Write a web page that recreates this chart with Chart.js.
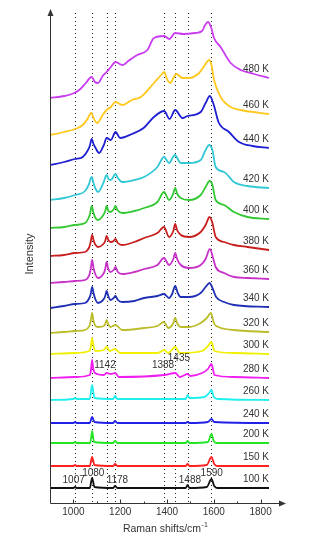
<!DOCTYPE html>
<html>
<head>
<meta charset="utf-8">
<script src="https://cdn.jsdelivr.net/npm/chart.js@4/dist/chart.umd.min.js"></script>
<style>
  html, body { margin: 0; padding: 0; background: #fff; }
  #wrap { width: 314px; height: 543px; }
</style>
</head>
<body>
<div id="wrap"><canvas id="ramanChart" width="314" height="543"></canvas></div>
<script>
// temperatures, top to bottom
const temps = ['480 K','460 K','440 K','420 K','400 K','380 K','360 K','340 K','320 K','300 K','280 K','260 K','240 K','200 K','150 K','100 K'];
const colors = ['#c93cf0','#ffc81e','#1e1ed2','#32c8d6','#32c832','#c81e1e','#c832c8','#2030b4','#bcbc2a','#f0f000','#f01ef0','#1ef0f0','#2020e6','#22e622','#ff2020','#111111'];

// [Raman shift, intensity (a.u., stacked)]
const s480 = [[900,405],[960,407],[1004,410],[1030,414],[1053,420],[1078,426],[1092,421],[1105,420],[1125,427],[1142,431],[1160,436],[1180,441],[1209,438],[1240,443],[1273,448],[1316,453],[1344,465],[1388,467],[1410,464],[1435,470],[1470,469],[1520,470],[1550,472],[1563,478],[1575,481],[1588,476],[1601,465],[1629,456],[1672,440],[1715,433],[1772,429],[1836,425]];
const s460 = [[900,368],[960,371],[1007,374],[1040,378],[1060,384],[1076,390],[1090,383],[1102,380],[1125,388],[1142,393],[1160,396],[1180,401],[1209,398],[1250,403],[1288,406],[1344,420],[1375,428],[1388,431],[1400,424],[1413,420],[1440,429],[1466,425],[1494,425],[1537,430],[1562,438],[1580,443],[1590,438],[1601,423],[1629,406],[1672,396],[1715,393],[1836,389]];
const s440 = [[900,338],[960,341],[1007,344],[1040,346],[1060,352],[1070,357],[1078,364],[1086,359],[1095,355],[1110,350],[1130,358],[1142,365],[1160,363],[1180,371],[1200,365],[1250,369],[1300,375],[1344,386],[1388,392],[1411,384],[1435,393],[1466,385],[1488,387],[1544,391],[1565,400],[1583,407],[1600,398],[1620,381],[1665,371],[1708,361],[1765,357],[1835,355]];
const s420 = [[900,303],[960,305],[1007,308],[1050,312],[1065,318],[1078,326],[1086,320],[1095,314],[1105,311],[1128,320],[1142,328],[1150,324],[1160,323],[1180,329],[1190,325],[1209,321],[1260,323],[1302,326],[1359,336],[1387,346],[1409,340],[1433,348],[1459,340],[1494,340],[1544,343],[1565,353],[1580,358],[1594,353],[1608,336],[1644,331],[1686,321],[1744,317],[1836,315]];
const s400 = [[900,275],[960,276],[1007,278],[1050,280],[1065,285],[1072,290],[1078,297],[1085,291],[1092,286],[1105,283],[1128,288],[1136,292],[1142,297],[1149,292],[1158,291],[1173,294],[1180,297],[1188,293],[1209,290],[1260,292],[1302,295],[1359,301],[1387,311],[1409,303],[1426,309],[1435,315],[1444,309],[1459,305],[1494,303],[1544,308],[1565,316],[1582,322],[1594,318],[1608,303],[1644,298],[1686,291],[1744,286],[1836,284]];
const s380 = [[900,247],[960,248],[1007,250],[1050,251],[1066,255],[1073,260],[1080,268],[1087,262],[1095,258],[1105,256],[1128,259],[1136,262],[1142,267],[1149,263],[1160,261],[1172,262],[1180,264],[1190,260],[1209,258],[1260,261],[1302,265],[1359,270],[1387,276],[1409,266],[1427,272],[1435,279],[1443,273],[1459,268],[1494,266],[1544,271],[1565,278],[1582,286],[1594,280],[1608,266],[1644,261],[1686,258],[1744,256],[1836,253]];
const s360 = [[900,220],[960,221],[1007,222],[1050,223],[1068,228],[1074,234],[1080,243],[1086,235],[1095,228],[1105,225],[1130,230],[1136,234],[1142,241],[1148,235],[1158,231],[1172,233],[1180,236],[1190,231],[1209,229],[1260,231],[1302,234],[1359,238],[1387,245],[1409,238],[1427,244],[1435,250],[1443,244],[1459,238],[1494,235],[1544,238],[1565,244],[1583,254],[1598,244],[1608,236],[1644,230],[1686,226],[1744,225],[1836,224]];
const s340 = [[900,195],[960,197],[1007,199],[1050,200],[1068,205],[1074,209],[1080,216],[1087,209],[1095,203],[1105,200],[1130,204],[1136,207],[1142,212],[1149,207],[1158,203],[1172,205],[1180,207],[1190,203],[1209,201],[1260,202],[1302,205],[1359,207],[1387,209],[1409,205],[1422,209],[1435,217],[1446,210],[1459,206],[1494,206],[1544,210],[1565,216],[1582,220],[1596,214],[1610,206],[1644,201],[1686,198],[1836,196]];
const s320 = [[900,170],[960,171],[1007,172],[1050,173],[1068,177],[1074,182],[1080,190],[1086,182],[1095,177],[1105,176],[1130,177],[1136,179],[1142,183],[1149,179],[1158,176],[1180,178],[1209,173],[1302,175],[1359,177],[1387,181],[1405,175],[1425,179],[1435,185],[1445,179],[1459,176],[1494,176],[1544,180],[1570,185],[1588,190],[1600,180],[1620,176],[1686,173],[1836,171]];
const s300 = [[900,149],[1007,150],[1068,152],[1074,156],[1080,165],[1086,157],[1095,152],[1130,153],[1142,156],[1155,152],[1178,154],[1200,150],[1360,150],[1388,153],[1405,150],[1435,156],[1455,150],[1550,152],[1575,157],[1590,161],[1603,152],[1686,150],[1836,149]];
const s280 = [[900,125],[1007,126],[1070,128],[1075,133],[1080,143],[1085,134],[1092,130],[1130,128],[1142,130],[1160,129],[1178,130],[1195,126],[1388,128],[1435,130],[1455,126],[1488,129],[1500,127],[1550,130],[1575,134],[1590,139],[1603,128],[1686,126],[1836,125]];
const s260 = [[900,103],[1000,104],[1007,105],[1014,104],[1070,104],[1080,118],[1090,105],[1170,104],[1178,107],[1188,104],[1480,104],[1488,108],[1496,105],[1560,106],[1580,110],[1590,113],[1600,106],[1620,104],[1836,103]];
const s240 = [[900,80],[1000,80],[1007,81],[1014,80],[1070,80],[1080,86],[1090,81],[1170,80],[1178,82],[1188,80],[1480,80],[1488,81],[1496,80],[1575,81],[1590,84],[1602,81],[1836,80]];
const s200 = [[900,60],[1000,60],[1007,61],[1014,60],[1072,60],[1080,72],[1088,61],[1170,60],[1178,62],[1188,60],[1480,60],[1488,62],[1496,60],[1575,61],[1590,69],[1600,62],[1612,60],[1836,60]];
const s150 = [[900,37],[1000,37],[1007,38],[1014,37],[1070,37],[1080,46],[1090,38],[1170,37],[1178,39],[1188,37],[1480,37],[1488,39],[1496,37],[1570,38],[1590,46],[1602,39],[1615,37],[1836,37]];
const s100 = [[900,15],[1000,15],[1007,16],[1014,15],[1070,15],[1080,25],[1090,16],[1170,15],[1178,17],[1188,15],[1480,15],[1488,18],[1496,15],[1570,16],[1590,24],[1602,17],[1615,15],[1836,15]];
const spectra = [s480,s460,s440,s420,s400,s380,s360,s340,s320,s300,s280,s260,s240,s200,s150,s100];

const peakLines = [1007,1080,1142,1178,1388,1435,1488,1590];
const xTicks = [1000,1200,1400,1600,1800];
// peak labels: text, centre shift, intensity
const peakLabels = [
  ['1007',1001,23],['1080',1085,30],['1178',1188,23],['1488',1498,23],['1590',1591,30],
  ['1142',1135,138],['1388',1383,138],['1435',1451,145]
];

const FONT = '"Liberation Sans", Arial, sans-serif';
const INK = '#333';

const decor = {
  id: 'decor',
  beforeDatasetsDraw(chart){
    const {ctx, scales:{x,y}} = chart;
    ctx.save();
    ctx.strokeStyle = '#222';
    ctx.lineWidth = 1;
    ctx.setLineDash([1,3]);
    peakLines.forEach(v => {
      const px = Math.round(x.getPixelForValue(v)) + 0.5;
      ctx.beginPath();
      ctx.moveTo(px, y.getPixelForValue(490));
      ctx.lineTo(px, y.getPixelForValue(0));
      ctx.stroke();
    });
    ctx.restore();
  },
  afterDatasetsDraw(chart){
    const {ctx, chartArea:a, scales:{x,y}} = chart;
    ctx.save();
    const x0 = a.left + 0.5, yb = a.bottom + 0.5;
    const xEnd = a.right + 1;
    ctx.strokeStyle = INK; ctx.fillStyle = INK; ctx.lineWidth = 1;
    // axes
    ctx.beginPath();
    ctx.moveTo(x0, yb); ctx.lineTo(x0, a.top + 4);
    ctx.moveTo(x0, yb); ctx.lineTo(xEnd - 4, yb);
    ctx.stroke();
    ctx.beginPath();
    ctx.moveTo(x0, a.top - 1); ctx.lineTo(x0 - 3, a.top + 6); ctx.lineTo(x0 + 3, a.top + 6); ctx.closePath();
    ctx.fill();
    ctx.beginPath();
    ctx.moveTo(xEnd + 1, yb); ctx.lineTo(xEnd - 6, yb - 3); ctx.lineTo(xEnd - 6, yb + 3); ctx.closePath();
    ctx.fill();
    // ticks
    for (let v = 1000; v <= 1800; v += 100){
      const px = Math.round(x.getPixelForValue(v)) + 0.5;
      ctx.beginPath();
      ctx.moveTo(px, yb); ctx.lineTo(px, yb - (v % 200 === 0 ? 4 : 2));
      ctx.stroke();
    }
    ctx.font = '10px ' + FONT;
    ctx.textAlign = 'center'; ctx.textBaseline = 'middle';
    xTicks.forEach(v => ctx.fillText(String(v), x.getPixelForValue(v), yb + 9));
    // axis titles
    ctx.font = '10.5px ' + FONT;
    const title = 'Raman shifts/cm';
    const tw = ctx.measureText(title).width;
    const tx = 166 - 4, ty = yb + 26;
    ctx.textAlign = 'center';
    ctx.fillText(title, tx, ty);
    ctx.font = '7px ' + FONT;
    ctx.textAlign = 'left';
    ctx.fillText('-1', tx + tw / 2 + 0.5, ty - 4);
    ctx.save();
    ctx.translate(30, 254);
    ctx.rotate(-Math.PI / 2);
    ctx.font = '11px ' + FONT;
    ctx.textAlign = 'center';
    ctx.fillText('Intensity', 0, 0);
    ctx.restore();
    // temperature labels
    ctx.font = '10px ' + FONT;
    ctx.textAlign = 'right';
    temps.forEach((t, i) => {
      const last = spectra[i][spectra[i].length - 1];
      ctx.fillText(t, x.getPixelForValue(1836), y.getPixelForValue(last[1]) - 9);
    });
    // peak labels
    ctx.textAlign = 'center';
    peakLabels.forEach(([t, sx, iv]) => ctx.fillText(t, x.getPixelForValue(sx), y.getPixelForValue(iv)));
    ctx.restore();
  }
};

new Chart(document.getElementById('ramanChart').getContext('2d'), {
  type: 'line',
  data: {
    datasets: spectra.map((s, i) => ({
      label: temps[i],
      data: s.map(([sx, iv]) => ({x: sx, y: iv})),
      borderColor: colors[i],
      borderWidth: 1.8,
      pointRadius: 0,
      fill: false,
      cubicInterpolationMode: 'monotone'
    }))
  },
  options: {
    responsive: false,
    animation: false,
    devicePixelRatio: 1,
    layout: { padding: { left: 50, right: 30, top: 10, bottom: 40 } },
    scales: {
      x: { type: 'linear', min: 900, max: 1900, display: false },
      y: { min: 0, max: 493, display: false }
    },
    plugins: { legend: { display: false }, tooltip: { enabled: false } }
  },
  plugins: [decor]
});
</script>
</body>
</html>
